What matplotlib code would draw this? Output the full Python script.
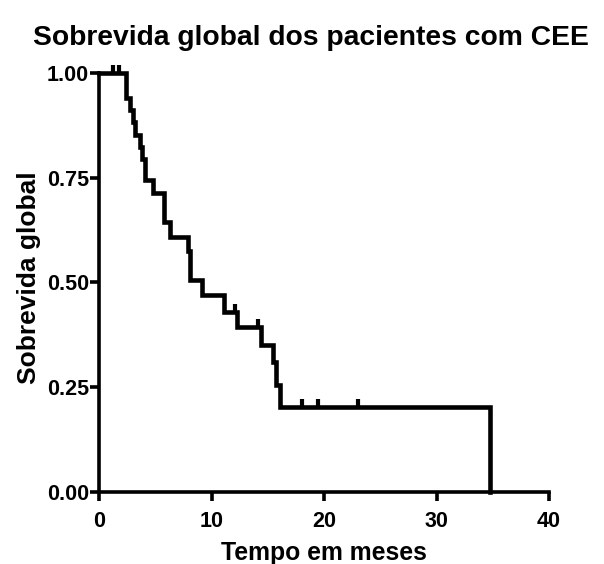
import numpy as np
import matplotlib.pyplot as plt
from matplotlib.path import Path

plt.rcParams['font.family'] = ['Liberation Sans', 'DejaVu Sans']
plt.rcParams['font.weight'] = 'bold'

# Kaplan-Meier steps: time of each drop and survival after it
event_times = [0, 2.36, 2.7, 3.0, 3.2, 3.6, 3.8, 4.05, 4.75, 5.75, 6.27,
               7.87, 8.05, 9.12, 11.08, 12.23, 14.37, 15.44, 15.7, 16.06, 34.75]
survival = [1.0, 0.941, 0.912, 0.882, 0.853, 0.824, 0.794, 0.745, 0.714, 0.644, 0.609,
            0.574, 0.506, 0.47, 0.43, 0.394, 0.351, 0.31, 0.255, 0.203, 0.0]

# censored patients (months)
censored_times = [1.2, 1.75, 12.1, 14.1, 18.0, 19.4, 23.0]

x_ticks = [0, 10, 20, 30, 40]
y_ticks = [0.0, 0.25, 0.5, 0.75, 1.0]


def surv_at(t):
    idx = np.searchsorted(event_times, t, side='right') - 1
    return np.array(survival)[idx]


fig = plt.figure(figsize=(6.04, 5.64), dpi=100)
ax = fig.add_axes([0.1647, 0.1277, 0.7443, 0.7429])

ax.step(event_times, survival, where='post', color='black', lw=3.3,
        solid_joinstyle='miter', clip_on=False, zorder=3)

# tick marks for censored observations (drawn upward from the curve)
up_tick = Path([(0, 0), (0, 1)])
ax.plot(censored_times, surv_at(np.array(censored_times)), linestyle='none',
        marker=up_tick, markersize=11, markeredgewidth=3, color='black',
        clip_on=False, zorder=4)

ax.set_xlim(0, 40)
ax.set_ylim(0, 1.0)
ax.set_xticks(x_ticks)
ax.set_yticks(y_ticks)
ax.set_xticklabels([str(v) for v in x_ticks])
ax.set_yticklabels(['%.2f' % v for v in y_ticks])

for side in ['top', 'right']:
    ax.spines[side].set_visible(False)
for side in ['left', 'bottom']:
    ax.spines[side].set_linewidth(2.6)

ax.tick_params(axis='both', direction='out', width=2.6, length=6.5,
               labelsize=15.5, color='black')
ax.tick_params(axis='y', pad=1)
ax.tick_params(axis='x', pad=7)
for lbl in ax.get_xticklabels() + ax.get_yticklabels():
    lbl.set_fontweight('bold')

ax.set_title('Sobrevida global dos pacientes com CEE', fontsize=20.3,
             fontweight='bold', pad=20.5, x=0.4705)
ax.set_xlabel('Tempo em meses', fontsize=17.8, fontweight='bold', labelpad=7)
ax.set_ylabel('Sobrevida global', fontsize=19, fontweight='bold', labelpad=4)
ax.yaxis.label.set_y(0.512)

fig.savefig('out.png', dpi=100)
